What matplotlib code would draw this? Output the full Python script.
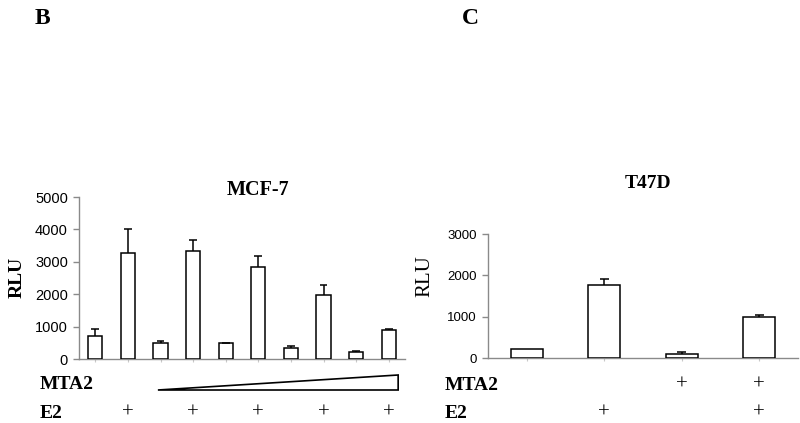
import matplotlib
matplotlib.use("Agg")
import matplotlib.pyplot as plt
import matplotlib.transforms as mtransforms
from matplotlib.patches import Polygon
import numpy as np

# ---- data ----
mcf7_values = [700, 3280, 500, 3340, 480, 2830, 350, 1980, 220, 900]
mcf7_err = [220, 720, 60, 340, 20, 350, 50, 290, 40, 40]
mcf7_e2 = ["", "+", "", "+", "", "+", "", "+", "", "+"]
mcf7_yticks = [0, 1000, 2000, 3000, 4000, 5000]

t47d_values = [210, 1760, 100, 990]
t47d_err = [0, 160, 40, 50]
t47d_mta2 = ["", "", "+", "+"]
t47d_e2 = ["", "+", "", "+"]
t47d_yticks = [0, 1000, 2000, 3000]

W, H = 800, 423
fig = plt.figure(figsize=(8, 4.23), dpi=100)
fig.patch.set_facecolor("white")

SERIF = ["Liberation Serif", "DejaVu Serif"]
SANS = ["Liberation Sans", "DejaVu Sans"]
GRAY = "#8a8a8a"


def px_axes(left, right, top, bottom):
    return fig.add_axes([left / W, (H - bottom) / H, (right - left) / W, (bottom - top) / H])


def style(ax, yticks, ylim, fs):
    for s in ["top", "right"]:
        ax.spines[s].set_visible(False)
    for s in ["left", "bottom"]:
        ax.spines[s].set_color(GRAY)
        ax.spines[s].set_linewidth(1.0)
    ax.set_ylim(*ylim)
    ax.set_yticks(yticks)
    ax.set_yticklabels([str(v) for v in yticks], fontfamily=SANS, fontsize=fs)
    ax.tick_params(axis="y", direction="out", length=4, color=GRAY, width=1, pad=4)
    ax.tick_params(axis="x", direction="out", length=2, color="#c8c8c8", width=0.8)
    ax.set_xticklabels([])


def upper_errors(ax, x, vals, errs, capw):
    for xi, v, e in zip(x, vals, errs):
        if e > 0:
            ax.vlines(xi, v, v + e, color="black", linewidth=1.1, zorder=4)
            ax.hlines(v + e, xi - capw, xi + capw, color="black", linewidth=1.1, zorder=4)


# ---- MCF-7 ----
ax1 = px_axes(79, 405, 197, 359)
x1 = np.arange(len(mcf7_values))
ax1.bar(x1, mcf7_values, width=0.43, color="white", edgecolor="black", linewidth=1.1, zorder=3)
upper_errors(ax1, x1, mcf7_values, mcf7_err, 0.12)
ax1.set_xlim(-0.5, len(mcf7_values) - 0.5)
ax1.set_xticks(x1)
style(ax1, mcf7_yticks, (0, 5000), 10.5)
fig.text(258 / W, (H - 190) / H, "MCF-7", ha="center", va="center",
         fontfamily=SERIF, fontweight="bold", fontsize=14.5)
fig.text(17 / W, (H - 277) / H, "RLU", rotation=90, ha="center", va="center",
         fontfamily=SERIF, fontweight="bold", fontsize=14)

# wedge for MTA2 increasing dose
tr1 = mtransforms.blended_transform_factory(ax1.transData, fig.transFigure)
wedge = Polygon([(1.92, (H - 390) / H), (9.29, (H - 375) / H), (9.29, (H - 390) / H)],
                closed=True, facecolor="white", edgecolor="black", linewidth=1.2,
                transform=tr1, clip_on=False)
fig.add_artist(wedge)
fig.text(40 / W, (H - 384) / H, "MTA2", ha="left", va="center",
         fontfamily=SERIF, fontweight="bold", fontsize=14)
fig.text(40 / W, (H - 413) / H, "E2", ha="left", va="center",
         fontfamily=SERIF, fontweight="bold", fontsize=14)
for xi, s in zip(x1, mcf7_e2):
    if s:
        ax1.text(xi, (H - 413) / H, s, transform=tr1, ha="center", va="center",
                 fontfamily=SERIF, fontsize=15)

# ---- T47D ----
ax2 = px_axes(488, 798, 234, 358)
x2 = np.arange(len(t47d_values))
ax2.bar(x2, t47d_values, width=0.41, color="white", edgecolor="black", linewidth=1.1, zorder=3)
upper_errors(ax2, x2, t47d_values, t47d_err, 0.06)
ax2.set_xlim(-0.5, len(t47d_values) - 0.5)
ax2.set_xticks(x2)
style(ax2, t47d_yticks, (0, 3000), 9.5)
fig.text(648 / W, (H - 183) / H, "T47D", ha="center", va="center",
         fontfamily=SERIF, fontweight="bold", fontsize=14)
fig.text(425 / W, (H - 276) / H, "RLU", rotation=90, ha="center", va="center",
         fontfamily=SERIF, fontsize=15)

tr2 = mtransforms.blended_transform_factory(ax2.transData, fig.transFigure)
fig.text(445 / W, (H - 385) / H, "MTA2", ha="left", va="center",
         fontfamily=SERIF, fontweight="bold", fontsize=14)
fig.text(445 / W, (H - 413) / H, "E2", ha="left", va="center",
         fontfamily=SERIF, fontweight="bold", fontsize=14)
for xi, s in zip(x2, t47d_mta2):
    if s:
        ax2.text(xi, (H - 385) / H, s, transform=tr2, ha="center", va="center",
                 fontfamily=SERIF, fontsize=15)
for xi, s in zip(x2, t47d_e2):
    if s:
        ax2.text(xi, (H - 413) / H, s, transform=tr2, ha="center", va="center",
                 fontfamily=SERIF, fontsize=15)

# panel letters
fig.text(35 / W, (H - 18) / H, "B", ha="left", va="center",
         fontfamily=SERIF, fontweight="bold", fontsize=17)
fig.text(462 / W, (H - 18) / H, "C", ha="left", va="center",
         fontfamily=SERIF, fontweight="bold", fontsize=17)

fig.savefig("out.png", dpi=100, facecolor="white")
